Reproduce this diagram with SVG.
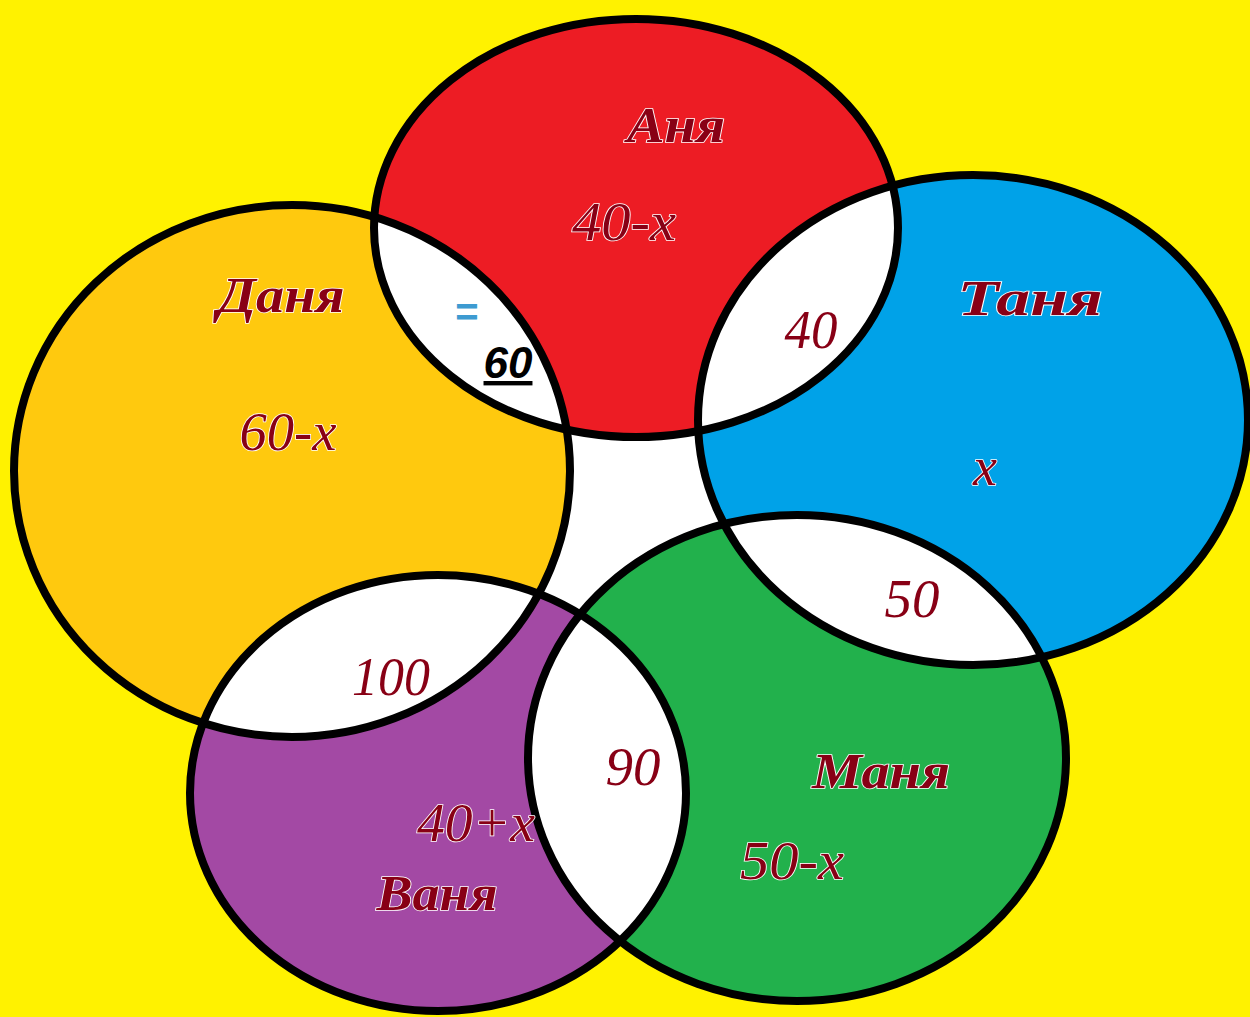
<svg xmlns="http://www.w3.org/2000/svg" xmlns:xlink="http://www.w3.org/1999/xlink" width="1250" height="1017" viewBox="0 0 1250 1017">
<style>
.t{font-family:"Liberation Serif","DejaVu Serif",serif;font-style:italic;fill:#880015;stroke:#ffffff;stroke-width:1.6;paint-order:stroke;text-anchor:middle}
.n{font-size:54px}
.nm{font-size:50px;font-weight:bold}
.ol{fill:none;stroke:#000;stroke-width:8}
.w{fill:#fff}
</style>
<defs>
<ellipse id="eA" cx="636" cy="228" rx="262" ry="209"/>
<ellipse id="eT" cx="973" cy="420" rx="275" ry="245"/>
<ellipse id="eD" cx="292" cy="471" rx="278" ry="266"/>
<ellipse id="eM" cx="797" cy="758" rx="269" ry="243"/>
<ellipse id="eV" cx="438" cy="793" rx="248" ry="218"/>
<clipPath id="cA"><use xlink:href="#eA"/></clipPath>
<clipPath id="cT"><use xlink:href="#eT"/></clipPath>
<clipPath id="cM"><use xlink:href="#eM"/></clipPath>
<clipPath id="cV"><use xlink:href="#eV"/></clipPath>
</defs>
<rect width="1250" height="1017" fill="#fff200"/>
<polygon points="556,420 710,420 726,527 582,622 532,606" fill="#fff"/>
<g id="fills">
<use xlink:href="#eA" fill="#ed1c24"/>
<use xlink:href="#eT" fill="#00a2e8"/>
<use xlink:href="#eD" fill="#ffc90e"/>
<use xlink:href="#eM" fill="#22b14c"/>
<use xlink:href="#eV" fill="#a349a4"/>
</g>
<g id="lenses">
<use xlink:href="#eD" class="w" clip-path="url(#cA)"/>
<use xlink:href="#eT" class="w" clip-path="url(#cA)"/>
<use xlink:href="#eM" class="w" clip-path="url(#cT)"/>
<use xlink:href="#eV" class="w" clip-path="url(#cM)"/>
<use xlink:href="#eD" class="w" clip-path="url(#cV)"/>
</g>
<g id="outlines">
<use xlink:href="#eA" class="ol"/>
<use xlink:href="#eT" class="ol"/>
<use xlink:href="#eD" class="ol"/>
<use xlink:href="#eM" class="ol"/>
<use xlink:href="#eV" class="ol"/>
</g>
<g id="node-anya">
<text class="t nm" x="676" y="142" textLength="98" lengthAdjust="spacingAndGlyphs">Аня</text>
<text class="t n" x="624" y="240" textLength="104" lengthAdjust="spacingAndGlyphs">40-x</text>
</g>
<g id="node-danya">
<text class="t nm" x="281" y="312" textLength="127" lengthAdjust="spacingAndGlyphs">Даня</text>
<text class="t n" x="288" y="450" textLength="97" lengthAdjust="spacingAndGlyphs">60-x</text>
</g>
<g id="node-tanya">
<text class="t nm" x="1030" y="315" textLength="145" lengthAdjust="spacingAndGlyphs">Таня</text>
<text class="t n" x="985" y="485">x</text>
</g>
<g id="node-manya">
<text class="t nm" x="881" y="788" textLength="138" lengthAdjust="spacingAndGlyphs">Маня</text>
<text class="t n" x="792" y="879" textLength="104" lengthAdjust="spacingAndGlyphs">50-x</text>
</g>
<g id="node-vanya">
<text class="t n" x="476" y="841" textLength="118" lengthAdjust="spacingAndGlyphs">40+x</text>
<text class="t nm" x="437" y="910" textLength="121" lengthAdjust="spacingAndGlyphs">Ваня</text>
</g>
<g id="intersections">
<text class="t n" x="811" y="348" textLength="53" lengthAdjust="spacingAndGlyphs">40</text>
<text class="t n" x="912" y="617" textLength="55" lengthAdjust="spacingAndGlyphs">50</text>
<text class="t n" x="391" y="695" textLength="78" lengthAdjust="spacingAndGlyphs">100</text>
<text class="t n" x="633" y="785" textLength="55" lengthAdjust="spacingAndGlyphs">90</text>
<text x="467" y="326" font-family="Liberation Sans, Arial, sans-serif" font-size="40" font-weight="bold" fill="#3d9bd1" text-anchor="middle">=</text>
<text x="508" y="378" font-family="Liberation Sans, Arial, sans-serif" font-size="44" font-weight="bold" font-style="italic" fill="#000" text-anchor="middle" text-decoration="underline">60</text>
</g>
</svg>
